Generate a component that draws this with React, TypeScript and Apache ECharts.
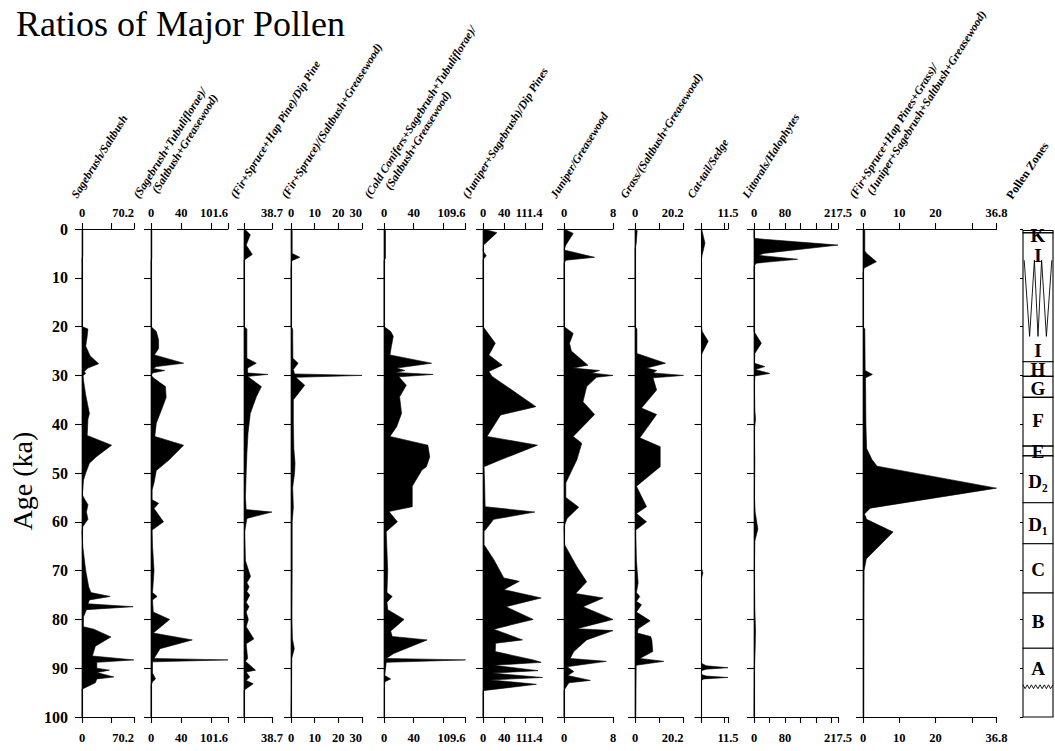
import React, { useEffect, useRef } from 'react';
import * as echarts from 'echarts';

// ---------- DATA: each profile is [age (ka), ratio] ----------
const sagebrushSaltbush: number[][] = [
  [0, 0], [0.2, 1], [5.5, 1], [6, 0], [20, 0], [20.5, 8], [22, 7], [24, 5], [26, 11], [27.6, 22.5], [28.5, 8], [29.2, 3],
  [29.6, 5], [30, 1.5], [31, 2], [34, 5], [37.8, 10], [39, 8], [42.3, 7], [44.3, 40], [46.7, 19], [48, 10], [50, 5],
  [51.5, 2], [54.5, 0.5], [55.5, 4], [56.5, 8], [58, 6], [59.5, 8], [61, 1], [62, 0], [65, 1], [70, 5], [73.3, 9],
  [74.5, 12], [75.3, 38], [76, 10], [76.8, 8], [77.4, 69], [78, 6], [79.5, 2], [81.5, 2], [82, 16], [83.6, 39],
  [85.5, 18], [87.5, 14], [88.3, 70], [88.8, 20], [90, 20], [90.4, 37], [90.9, 20], [91.8, 43], [92.2, 20], [93, 18],
  [94.3, 0], [100, 0],
];
const sageTubSaltGrease: number[][] = [
  [0, 0], [0.3, 1], [6, 1], [6.5, 0], [20, 0], [21, 7], [22.7, 10], [24.5, 10], [25.8, 4.5], [27.5, 43], [28.2, 7],
  [28.6, 3], [29, 18], [29.5, 2], [30, 0.5], [30.5, 3], [32.3, 19], [34.5, 20], [37, 14], [39.8, 7], [42.5, 5],
  [44.3, 43], [47.3, 24], [49.5, 7], [52, 4], [53.5, 1.5], [55.5, 1.5], [56.2, 10], [57.3, 4], [60, 16.5], [61.7, 1.5],
  [65, 2], [70, 4], [74.5, 2], [75.3, 8], [76, 2], [78.5, 3], [80, 24.5], [82.8, 3], [84.2, 54.5], [86, 12], [87, 8],
  [88, 4], [88.3, 101.6], [88.7, 2], [91, 2], [92.2, 6], [92.8, 2], [93.5, 0], [100, 0],
];
const firSpruceHapDip: number[][] = [
  [0, 0], [0.3, 3], [1.2, 8.7], [3.3, 3], [5.2, 11.5], [6.4, 0], [20, 0], [20.5, 4], [24, 4], [26.5, 4], [27.5, 17],
  [28.5, 5], [29.5, 5], [29.8, 33], [30.2, 5], [32.3, 24], [34.4, 17], [37.8, 8.7], [41.9, 5.5], [46, 4], [50, 3],
  [55, 2], [57.5, 3], [58, 38.7], [59.3, 4], [62, 1], [68, 2], [71.2, 9], [72.5, 4], [73.3, 7], [74.3, 4], [75, 8],
  [76.5, 3], [77.4, 7], [78.5, 3], [80, 6], [81.5, 3], [84, 13.6], [85, 3], [88, 5], [88.6, 2], [90.4, 16], [90.8, 3],
  [91.8, 8], [92.5, 3], [93.2, 12.7], [94.5, 0], [100, 0],
];
const firSpruceSaltGrease: number[][] = [
  [0, 0], [0.3, 0.5], [5, 0.5], [5.8, 3.7], [6.5, 0.3], [8, 0], [20, 0], [20.5, 0.7], [26.5, 0.8], [27.5, 3],
  [28.8, 1], [29.7, 1.5], [30, 30], [30.4, 2], [32, 5.8], [35, 1], [40, 1], [45, 1.2], [48, 1.7], [50, 1.5], [53, 0.7],
  [57, 1], [60, 0.5], [70, 0.5], [80, 0.4], [84, 0.6], [86, 1.4], [88, 0.3], [95, 0.2], [100, 0],
];
const coldConifers: number[][] = [
  [0, 0], [0.3, 2], [6, 2], [6.5, 0], [20, 0], [21, 9], [22, 12.5], [24, 10], [25.8, 8], [27.5, 64], [28.5, 17],
  [29, 28], [29.4, 15], [29.8, 66], [30.3, 20], [32, 30], [34.4, 21], [37.8, 23.6], [40.5, 17], [42.5, 8], [44.3, 59],
  [46.7, 61.5], [48.7, 57], [49.4, 51], [52.7, 38], [56.9, 38], [57.9, 6.7], [60, 18], [62, 3], [66, 4], [70, 5],
  [74.5, 4], [75.3, 11], [76.5, 4], [78, 5], [80, 27], [82.4, 9], [83.5, 11], [84.2, 58], [87, 13], [88, 3],
  [88.3, 109.6], [88.8, 3], [91.5, 1], [92.2, 9], [92.8, 1], [94.4, 0.5], [100, 0.5],
];
const juniperSageDip: number[][] = [
  [0, 0], [0.75, 26], [3.3, 1], [4.5, 0], [5.5, 6], [6.3, 0], [20, 0], [23.4, 23], [25.8, 11], [27.9, 36], [29.2, 11],
  [30.2, 17], [36.4, 99], [38.1, 33], [42.5, 7.5], [44.3, 102], [47.3, 33], [48.7, 2], [52, 3], [56.9, 4], [58, 97],
  [59.5, 20], [62, 2], [64.7, 2], [67.7, 20], [71.5, 39], [72.2, 68], [73.9, 39], [75.6, 109], [77.4, 43], [80, 94],
  [82, 20], [84.2, 74], [84.9, 23.5], [86.6, 23], [88.3, 94], [88.8, 109], [89.4, 20], [90.5, 103], [91, 17],
  [91.9, 111.4], [92.4, 14], [93.3, 100], [94.6, 0], [100, 0],
];
const juniperGreasewood: number[][] = [
  [0, 0], [0.9, 1.5], [3.3, 0.3], [4.3, 0], [5.8, 5], [6.4, 0.3], [7, 0], [20, 0], [21.4, 1.5], [23.4, 0.9], [25, 1.2],
  [27.9, 3.9], [28.5, 1.5], [29, 5.8], [29.5, 4.5], [30, 8], [30.4, 5.3], [32.3, 3.7], [35.4, 3.1], [38, 5], [42.5, 1.5],
  [43.9, 2.9], [47.3, 2.1], [52, 0.3], [55, 0.3], [57, 2.4], [59.3, 0.5], [61, 0], [64.7, 0.1], [69.2, 2.1], [72.3, 3.7],
  [74.7, 1.9], [75.6, 6.4], [77.4, 3.1], [80, 8], [81.9, 2.1], [82.3, 8], [84.2, 3.7], [86.6, 1.6], [88, 1], [88.6, 6.9],
  [89.7, 0.5], [90.7, 1.6], [91.5, 0.6], [92.5, 4.3], [93, 0.8], [94.5, 0], [100, 0],
];
const grassSaltGrease: number[][] = [
  [0, 0], [0.3, 0.9], [3, 0.5], [4, 0], [20, 0], [20.5, 0.8], [25.5, 0.8], [27.5, 12.7], [28.5, 4.8], [29, 9], [29.5, 7.5],
  [30, 20.2], [30.5, 7.5], [33, 9], [36.7, 2.7], [38, 9], [42.8, 2], [44.6, 10.5], [48.7, 10.5], [52.7, 0.6], [56.9, 4.8],
  [58.3, 0.6], [60, 4.8], [61.7, 0.3], [68, 0.6], [72.5, 1.3], [74.5, 0.6], [75.3, 2], [76.3, 0.6], [77, 2.7], [78.5, 0.6],
  [80.3, 6.3], [81.9, 1.3], [82.8, 1], [83.5, 6.5], [84.2, 7], [86.6, 7.4], [88, 2], [88.6, 12], [89.4, 0.5], [100, 0.3],
];
const cattailSedge: number[][] = [
  [0, 0], [0.5, 0.3], [2.9, 1.5], [5.5, 0.2], [6, 0], [20, 0], [21, 0.3], [23, 2.9], [25.5, 0.2], [26, 0], [69.5, 0],
  [70.5, 0.6], [71.5, 0], [89, 0], [89.5, 2], [89.9, 11.5], [90.2, 2], [90.5, 0], [91.3, 0], [91.6, 2], [91.9, 11.5],
  [92.2, 1], [92.5, 0], [100, 0],
];
const littoralsHalophytes: number[][] = [
  [0, 0], [1.9, 0], [2.1, 25], [3.3, 217.5], [5, 25], [5.4, 12], [6.2, 113], [7, 6], [7.6, 0], [21, 0], [23.4, 19],
  [25.5, 2], [27.5, 1], [28.2, 28], [28.8, 3], [29.6, 41], [30.1, 2], [32, 1], [37, 2], [39, 4], [41, 1], [48, 2],
  [55, 1], [58, 3], [61.5, 10], [64, 2], [70, 1], [78, 2], [82, 4], [86, 3], [90, 1], [95, 0.5], [100, 0],
];
const coniferGrassRatio: number[][] = [
  [0, 0], [0.3, 0.5], [4.5, 0.5], [5, 1], [6.7, 3.7], [8, 0.3], [9, 0], [20, 0], [20.5, 0.5], [29, 0.6], [29.8, 2.6],
  [30.5, 0.7], [40, 0.8], [45, 1], [47.3, 2.5], [48.6, 3.9], [53.1, 36.8], [57.2, 2], [58.4, 0.4], [59.5, 1], [62.1, 8.3],
  [67.6, 0.9], [70, 0.3], [100, 0.2],
];

const PROFILES = [
  sagebrushSaltbush, sageTubSaltGrease, firSpruceHapDip, firSpruceSaltGrease, coldConifers, juniperSageDip,
  juniperGreasewood, grassSaltGrease, cattailSedge, littoralsHalophytes, coniferGrassRatio,
];

const HEADER_LINE_1 = [
  'Sagebrush/Saltbush', '(Sagebrush+Tubuliflorae)/', '(Fir+Spruce+Hap Pine)/Dip Pine', '(Fir+Spruce)/(Saltbush+Greasewood)',
  '(Cold Conifers+Sagebrush+Tubuliflorae)/', '(Juniper+Sagebrush)/Dip Pines', 'Juniper/Greasewood',
  'Grass/(Saltbush+Greasewood)', 'Cat-tail/Sedge', 'Littorals/Halophytes', '(Fir+Spruce+Hap Pines+Grass)/',
];
const HEADER_LINE_2 = ['', '(Saltbush+Greasewood)', '', '', '(Saltbush+Greasewood)', '', '', '', '', '',
  '(Juniper+Sagebrush+Saltbush+Greasewood)'];

const AXIS_MAX = [70.2, 101.6, 38.7, 30, 109.6, 111.4, 8, 20.2, 11.5, 217.5, 36.8];
const AXIS_TICKS = [[0, 40, 70.2], [0, 40, 80, 101.6], [0, 38.7], [0, 10, 20, 30], [0, 40, 80, 109.6], [0, 40, 80, 111.4],
  [0, 8], [0, 10, 20.2], [0, 10, 11.5], [0, 40, 80, 120, 160, 200, 217.5], [0, 10, 20, 30, 36.8]];
const AXIS_LABELS = [[0, 70.2], [0, 40, 101.6], [38.7], [0, 10, 20, 30], [0, 40, 109.6], [0, 40, 111.4], [0, 8], [0, 20.2],
  [11.5], [0, 80, 217.5], [0, 10, 20, 36.8]];

const ZONE_TOP = [0.3, 0.8, 27.2, 30.2, 34.5, 44.5, 46.5, 56.1, 64.5, 74.6, 85.9];
const ZONE_BOTTOM = [0.8, 27.2, 30.2, 34.5, 44.5, 46.5, 56.1, 64.5, 74.6, 85.9, 100];
const ZONE_LABEL_TEXT = ['K', 'I', 'I', 'H', 'G', 'F', 'E', 'D₂', 'D₁', 'C', 'B', 'A'];
const ZONE_LABEL_AGE = [1.3, 5.5, 24.8, 28.7, 32.6, 39.3, 45.5, 51.8, 60.6, 69.8, 80.5, 90];
const HIATUS_I_X = [0.04, 0.22, 0.38, 0.5, 0.62, 0.78, 0.96];
const HIATUS_I_AGE = [6.4, 22, 6.4, 22, 6.4, 22, 6.4];
const HIATUS_A_X = [0, 0.07, 0.14, 0.21, 0.28, 0.35, 0.42, 0.5, 0.57, 0.64, 0.71, 0.78, 0.85, 0.92, 1];
const HIATUS_A_AGE = [93.4, 94.2, 93.4, 94.2, 93.4, 94.2, 93.4, 94.2, 93.4, 94.2, 93.4, 94.2, 93.4, 94.2, 93.4];

// ---------- LAYOUT ----------
const GRID_TOP = 229;
const GRID_BOTTOM = 717;
const PANEL_LEFT = [82, 151, 244, 291, 384, 483, 564, 635, 701.5, 754, 863];
const PANEL_RIGHT = [134, 228, 272, 362, 465.5, 542.5, 613, 683.5, 728, 838, 996.5];
const MAX_ALIGN = ['right', 'right', 'right', 'right', 'right', 'right', 'center', 'right', 'center', 'center', 'center'];
const HEADER_X = [79, 141, 238, 289, 372, 470, 558, 628, 695, 750, 857];
const HEADER_INDENT = [0, 14, 0, 0, 18, 0, 0, 0, 0, 0, 12];
const ZONE_LEFT = 1023;
const ZONE_RIGHT = 1053;

const SERIF = '"Liberation Serif", "Times New Roman", serif';

function renderProfile(params: any, api: any) {
  if (params.dataIndexInside !== 0) return null;
  const n = params.dataInsideLength;
  const pts: number[][] = [];
  pts.push(api.coord([0, api.value(1, 0)]));
  for (let k = 0; k < n; k++) pts.push(api.coord([api.value(0, k), api.value(1, k)]));
  pts.push(api.coord([0, api.value(1, n - 1)]));
  return { type: 'polygon', shape: { points: pts }, style: { fill: '#000', stroke: '#000', lineWidth: 0.6 } };
}

function renderPolyline(params: any, api: any) {
  if (params.dataIndexInside !== 0) return null;
  const n = params.dataInsideLength;
  const pts: number[][] = [];
  for (let k = 0; k < n; k++) pts.push(api.coord([api.value(0, k), api.value(1, k)]));
  return { type: 'polyline', shape: { points: pts }, style: { fill: 'none', stroke: '#000', lineWidth: 0.9 } };
}

function buildOption() {
  const n = PROFILES.length;
  const grid: any[] = [];
  const xAxis: any[] = [];
  const yAxis: any[] = [];
  const series: any[] = [];
  const graphic: any[] = [];
  const lineStyle = { color: '#000', width: 1.1 };
  const headerStyle = {
    fontFamily: SERIF, fontStyle: 'italic', fontWeight: 'bold', fontSize: 11.5, fill: '#000',
    align: 'left', verticalAlign: 'bottom', textAlign: 'left', textVerticalAlign: 'bottom',
  };

  for (let i = 0; i < n; i++) {
    grid.push({ left: PANEL_LEFT[i], top: GRID_TOP, width: PANEL_RIGHT[i] - PANEL_LEFT[i], height: GRID_BOTTOM - GRID_TOP });
    ['top', 'bottom'].forEach((pos) => {
      xAxis.push({
        gridIndex: i, type: 'value', position: pos, min: 0, max: AXIS_MAX[i],
        axisLine: { show: true, onZero: false, lineStyle },
        axisTick: { show: true, length: 6, customValues: AXIS_TICKS[i], lineStyle },
        axisLabel: {
          show: true, customValues: AXIS_LABELS[i], margin: pos === 'top' ? 10 : 14,
          showMinLabel: true, showMaxLabel: true, alignMaxLabel: MAX_ALIGN[i],
          fontFamily: SERIF, fontSize: 12.5, fontWeight: 'bold', color: '#000',
          formatter: (v: number) => String(v),
        },
        splitLine: { show: false },
      });
    });
    yAxis.push({
      gridIndex: i, type: 'value', inverse: true, min: 0, max: 100, interval: 10,
      axisLine: { show: true, onZero: false, lineStyle },
      axisTick: { show: true, length: 7, lineStyle },
      axisLabel: i === 0
        ? { show: true, margin: 14, fontFamily: SERIF, fontSize: 16, fontWeight: 'bold', color: '#000' }
        : { show: false },
      splitLine: { show: false },
    });
    series.push({
      type: 'custom', name: HEADER_LINE_1[i] + HEADER_LINE_2[i], xAxisIndex: 2 * i, yAxisIndex: i,
      data: PROFILES[i].map(([age, v]) => [v, age]), encode: { x: 0, y: 1 },
      renderItem: renderProfile, silent: true, clip: false,
    });

    const children: any[] = [{ type: 'text', x: 0, y: 0, style: { ...headerStyle, text: HEADER_LINE_1[i] } }];
    if (HEADER_LINE_2[i]) {
      children.push({ type: 'text', x: HEADER_INDENT[i], y: 13, style: { ...headerStyle, text: HEADER_LINE_2[i] } });
    }
    graphic.push({ type: 'group', x: HEADER_X[i], y: 200, rotation: (58 * Math.PI) / 180, children });
  }

  // Pollen zone column
  const zg = n;
  grid.push({ left: ZONE_LEFT, top: GRID_TOP, width: ZONE_RIGHT - ZONE_LEFT, height: GRID_BOTTOM - GRID_TOP });
  xAxis.push({ gridIndex: zg, type: 'value', min: 0, max: 1, show: false });
  yAxis.push({
    gridIndex: zg, type: 'value', inverse: true, min: 0, max: 100, interval: 10,
    axisLine: { show: false, onZero: false }, axisTick: { show: true, length: 3, lineStyle: { color: '#000', width: 1 } },
    axisLabel: { show: false }, splitLine: { show: false },
  });
  const zx = 2 * n;
  series.push({
    type: 'custom', name: 'zones', xAxisIndex: zx, yAxisIndex: zg,
    data: ZONE_TOP.map((t, i) => [0, t, ZONE_BOTTOM[i]]), encode: { x: 0, y: [1, 2] }, silent: true,
    renderItem: (params: any, api: any) => {
      const p1 = api.coord([0, api.value(1)]);
      const p2 = api.coord([1, api.value(2)]);
      return {
        type: 'rect', shape: { x: p1[0], y: p1[1], width: p2[0] - p1[0], height: p2[1] - p1[1] },
        style: { fill: '#fff', stroke: '#000', lineWidth: 1.1 },
      };
    },
  });
  series.push({
    type: 'custom', name: 'hiatusI', xAxisIndex: zx, yAxisIndex: zg, silent: true,
    data: HIATUS_I_X.map((x, i) => [x, HIATUS_I_AGE[i]]), encode: { x: 0, y: 1 }, renderItem: renderPolyline,
  });
  series.push({
    type: 'custom', name: 'hiatusA', xAxisIndex: zx, yAxisIndex: zg, silent: true,
    data: HIATUS_A_X.map((x, i) => [x, HIATUS_A_AGE[i]]), encode: { x: 0, y: 1 }, renderItem: renderPolyline,
  });
  series.push({
    type: 'custom', name: 'zoneLabels', xAxisIndex: zx, yAxisIndex: zg, silent: true,
    data: ZONE_LABEL_AGE.map((a) => [0.5, a]), encode: { x: 0, y: 1 },
    renderItem: (params: any, api: any) => {
      const p = api.coord([api.value(0), api.value(1)]);
      return {
        type: 'text', x: p[0], y: p[1],
        style: {
          text: ZONE_LABEL_TEXT[params.dataIndex], fontFamily: SERIF, fontWeight: 'bold', fontSize: 19, fill: '#000',
          lineHeight: 16, align: 'center', verticalAlign: 'middle', textAlign: 'center', textVerticalAlign: 'middle',
        },
      };
    },
  });

  graphic.push({
    type: 'group', x: 1014, y: 201, rotation: (56 * Math.PI) / 180,
    children: [{
      type: 'text', x: 0, y: 0,
      style: {
        text: 'Pollen Zones', fontFamily: SERIF, fontWeight: 'bold', fontSize: 12, fill: '#000',
        align: 'left', verticalAlign: 'bottom', textAlign: 'left', textVerticalAlign: 'bottom',
      },
    }],
  });
  graphic.push({
    type: 'text', x: 16, y: 6,
    style: {
      text: 'Ratios of Major Pollen', fontFamily: SERIF, fontSize: 36, fill: '#000',
      align: 'left', verticalAlign: 'top', textAlign: 'left', textVerticalAlign: 'top',
    },
  });
  graphic.push({
    type: 'group', x: 22, y: 481, rotation: Math.PI / 2,
    children: [{
      type: 'text', x: 0, y: 0,
      style: {
        text: 'Age (ka)', fontFamily: SERIF, fontSize: 28, fill: '#000',
        align: 'center', verticalAlign: 'middle', textAlign: 'center', textVerticalAlign: 'middle',
      },
    }],
  });

  return {
    animation: false,
    backgroundColor: '#fff',
    textStyle: { fontFamily: SERIF, color: '#000' },
    grid, xAxis, yAxis, series, graphic,
  };
}

export default function App() {
  const ref = useRef<HTMLDivElement>(null);
  useEffect(() => {
    if (!ref.current) return;
    const chart = echarts.init(ref.current, null, { renderer: 'svg' });
    chart.setOption(buildOption() as any);
    return () => chart.dispose();
  }, []);
  return (
    <div
      ref={ref}
      style={{ position: 'fixed', left: 0, top: 0, width: 1055, height: 751, background: '#fff' }}
    />
  );
}
